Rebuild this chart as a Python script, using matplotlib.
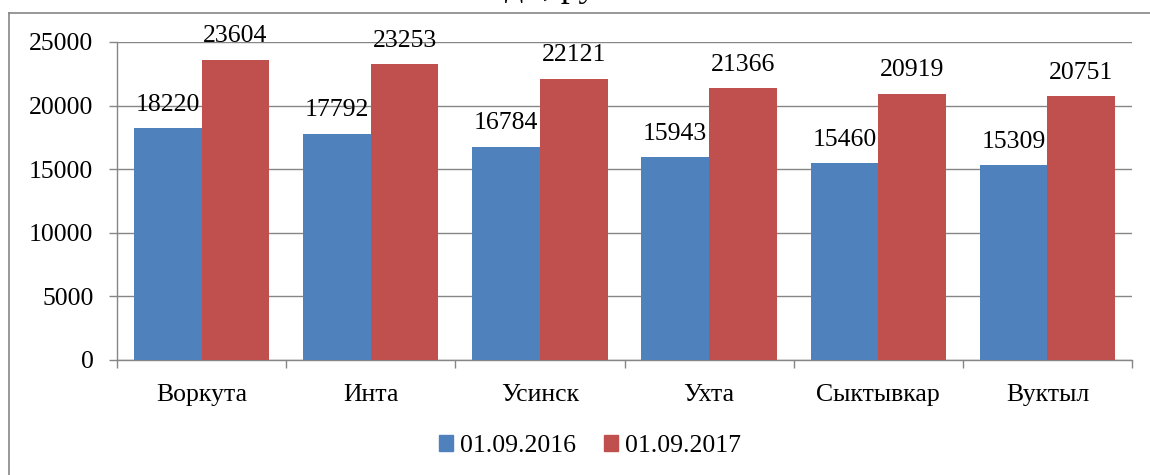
import numpy as np
import matplotlib.pyplot as plt
from matplotlib.lines import Line2D
from matplotlib.patches import Patch

# данные
cities = ['Воркута', 'Инта', 'Усинск', 'Ухта', 'Сыктывкар', 'Вуктыл']
vals_2016 = [18220, 17792, 16784, 15943, 15460, 15309]
vals_2017 = [23604, 23253, 22121, 21366, 20919, 20751]
series_names = ['01.09.2016', '01.09.2017']
yticks = [0, 5000, 10000, 15000, 20000, 25000]

c_blue = '#4F81BD'
c_red = '#C0504D'
c_grid = '#868686'

plt.rcParams['font.family'] = ['Liberation Serif', 'DejaVu Serif']
fs = 18.5

W, H = 1150, 475
fig = plt.figure(figsize=(W / 100, H / 100), dpi=100)
ax = fig.add_axes([117 / W, 1 - 360 / H, (1132 - 117) / W, (360 - 42) / H])

x = np.arange(len(cities))
bw = 0.40
b1 = ax.bar(x - bw / 2, vals_2016, bw, color=c_blue, zorder=3)
b2 = ax.bar(x + bw / 2, vals_2017, bw, color=c_red, zorder=3)

for bars, vals in ((b1, vals_2016), (b2, vals_2017)):
    for r, v in zip(bars, vals):
        ax.annotate(str(v), (r.get_x() + r.get_width() / 2, v), xytext=(0, 9),
                    textcoords='offset points', ha='center', va='bottom',
                    fontsize=fs, zorder=5)

ax.set_xlim(-0.5, len(cities) - 0.5)
ax.set_ylim(0, 25000)
ax.set_yticks(yticks)
ax.set_yticklabels([str(t) for t in yticks], fontsize=fs)
ax.set_xticks(x)
ax.set_xticklabels(cities, fontsize=fs)
ax.set_xticks(np.arange(-0.5, len(cities), 1), minor=True)
ax.tick_params(axis='x', which='major', length=0, pad=17)
ax.tick_params(axis='x', which='minor', length=6, width=1, color=c_grid, direction='out')
ax.tick_params(axis='y', length=6, width=1, color=c_grid, pad=11)
ax.yaxis.grid(True, color=c_grid, lw=1.0, zorder=0)
ax.set_axisbelow(True)
for s in ('top', 'right'):
    ax.spines[s].set_visible(False)
for s in ('left', 'bottom'):
    ax.spines[s].set_color(c_grid)
    ax.spines[s].set_linewidth(1.0)

handles = [Patch(color=c_blue), Patch(color=c_red)]
ax.legend(handles, series_names, loc='center', bbox_to_anchor=(590 / W, 1 - 446 / H),
          bbox_transform=fig.transFigure, ncol=2, frameon=False, fontsize=fs,
          handlelength=0.55, handleheight=0.55, handletextpad=0.25, columnspacing=1.1)

# рамка области диаграммы
fig.add_artist(Line2D([9 / W, 1.0], [1 - 13 / H, 1 - 13 / H], color=c_grid, lw=1.2))
fig.add_artist(Line2D([9 / W, 9 / W], [0, 1 - 13 / H], color=c_grid, lw=1.2))

# заголовок, обрезанный верхним краем (как в исходной картинке)
fig.text(505 / W, 1.0 + 4 / H, 'ди, руб.', fontsize=26, ha='left', va='baseline')

fig.savefig('out.png', dpi=100)
